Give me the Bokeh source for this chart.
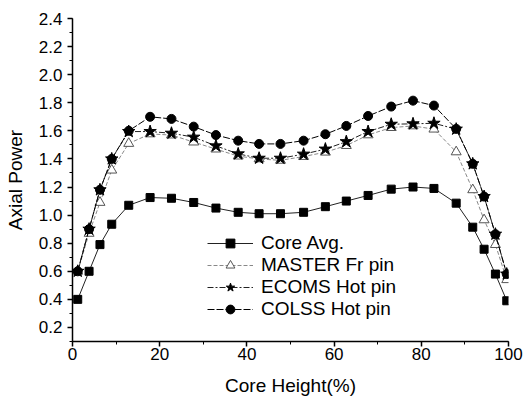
from bokeh.plotting import figure
from bokeh.models import Range1d, Legend, LegendItem, FixedTicker, PrintfTickFormatter
from bokeh.embed import file_html
from bokeh.resources import INLINE

x = [1.2, 3.8, 6.3, 9.0, 12.9, 17.8, 22.7, 27.8, 32.9, 38.0, 42.8, 47.7,
     53.0, 58.0, 62.8, 67.8, 73.1, 78.1, 82.9, 88.0, 91.8, 94.4, 97.0, 99.6]
core_avg = [0.40, 0.60, 0.79, 0.935, 1.07, 1.125, 1.12, 1.09, 1.05, 1.02, 1.01, 1.01,
            1.02, 1.06, 1.10, 1.14, 1.185, 1.20, 1.19, 1.085, 0.914, 0.757, 0.58, 0.39]
master_fr = [0.60, 0.87, 1.09, 1.32, 1.51, 1.578, 1.57, 1.52, 1.47, 1.42, 1.40, 1.39,
             1.417, 1.448, 1.495, 1.571, 1.623, 1.635, 1.612, 1.45, 1.18, 0.966, 0.79, 0.54]
ecoms_hot = [0.60, 0.90, 1.18, 1.40, 1.595, 1.595, 1.583, 1.555, 1.493, 1.436, 1.405, 1.405,
             1.434, 1.47, 1.523, 1.595, 1.647, 1.65, 1.654, 1.612, 1.365, 1.132, 0.864, 0.58]
colss_hot = [0.60, 0.90, 1.18, 1.40, 1.60, 1.70, 1.685, 1.63, 1.57, 1.53, 1.507, 1.507,
             1.53, 1.576, 1.635, 1.706, 1.773, 1.815, 1.78, 1.614, 1.365, 1.132, 0.864, 0.58]

x_ticks = [0, 20, 40, 60, 80, 100]
y_ticks = [0.2, 0.4, 0.6, 0.8, 1.0, 1.2, 1.4, 1.6, 1.8, 2.0, 2.2, 2.4]
labels = ["Core Avg.", "MASTER Fr pin", "ECOMS Hot pin", "COLSS Hot pin"]

FONT = "Liberation Sans"

p = figure(width=526, height=405, output_backend="svg", toolbar_location=None,
           x_range=Range1d(0, 100), y_range=Range1d(0.1, 2.4),
           min_border_left=72, min_border_right=18, min_border_top=18, min_border_bottom=64)
p.outline_line_color = None
p.grid.visible = False
p.background_fill_color = "white"

for ax in (p.xaxis[0], p.yaxis[0]):
    ax.axis_line_color = "black"
    ax.axis_line_width = 1.5
    ax.major_tick_line_color = "black"
    ax.minor_tick_line_color = "black"
    ax.major_tick_line_width = 1.5
    ax.major_tick_out = 5
    ax.major_tick_in = 0
    ax.minor_tick_out = 3
    ax.minor_tick_in = 0
    ax.major_label_text_font = FONT
    ax.major_label_text_font_size = "17px"
    ax.major_label_text_color = "black"
    ax.axis_label_text_font = FONT
    ax.axis_label_text_font_size = "19px"
    ax.axis_label_text_font_style = "normal"
    ax.axis_label_text_color = "black"

p.xaxis.ticker = FixedTicker(ticks=x_ticks, minor_ticks=list(range(0, 101, 10)))
p.yaxis.ticker = FixedTicker(ticks=y_ticks, minor_ticks=[round(0.1 * i, 1) for i in range(1, 25)])
p.yaxis.formatter = PrintfTickFormatter(format="%.1f")
p.xaxis.axis_label = "Core Height(%)"
p.yaxis.axis_label = "Axial Power"
p.xaxis.major_label_standoff = 1
p.xaxis.axis_label_standoff = 12
p.yaxis.major_label_standoff = 5
p.yaxis.axis_label_standoff = 10

l1 = p.line(x, core_avg, line_color="#222222", line_width=1)
m1 = p.scatter(x, core_avg, marker="square", size=8, fill_color="black", line_color="black")

l2 = p.line(x, master_fr, line_color="#888888", line_width=1, line_dash="4 2")
m2 = p.scatter(x, master_fr, marker="triangle", size=10, fill_color="white", line_color="#555555", line_width=1)

l3 = p.line(x, ecoms_hot, line_color="#222222", line_width=1, line_dash="6 2 2 2")
m3 = p.scatter(x, ecoms_hot, marker="star", size=13, fill_color="black", line_color="black")

l4 = p.line(x, colss_hot, line_color="black", line_width=1, line_dash="7 2")
m4 = p.scatter(x, colss_hot, marker="circle", size=9, fill_color="black", line_color="black")

legend = Legend(items=[
    LegendItem(label=labels[0], renderers=[l1, m1]),
    LegendItem(label=labels[1], renderers=[l2, m2]),
    LegendItem(label=labels[2], renderers=[l3, m3]),
    LegendItem(label=labels[3], renderers=[l4, m4]),
], location=(135, 21))
legend.border_line_color = None
legend.background_fill_alpha = 0
legend.padding = 0
legend.margin = 0
legend.spacing = 0
legend.label_height = 22
legend.glyph_height = 22
legend.glyph_width = 46
legend.label_standoff = 8
legend.label_text_font = FONT
legend.label_text_font_size = "19px"
legend.label_text_color = "black"
p.add_layout(legend, "center")

open("out.html", "w").write(file_html(p, INLINE))
